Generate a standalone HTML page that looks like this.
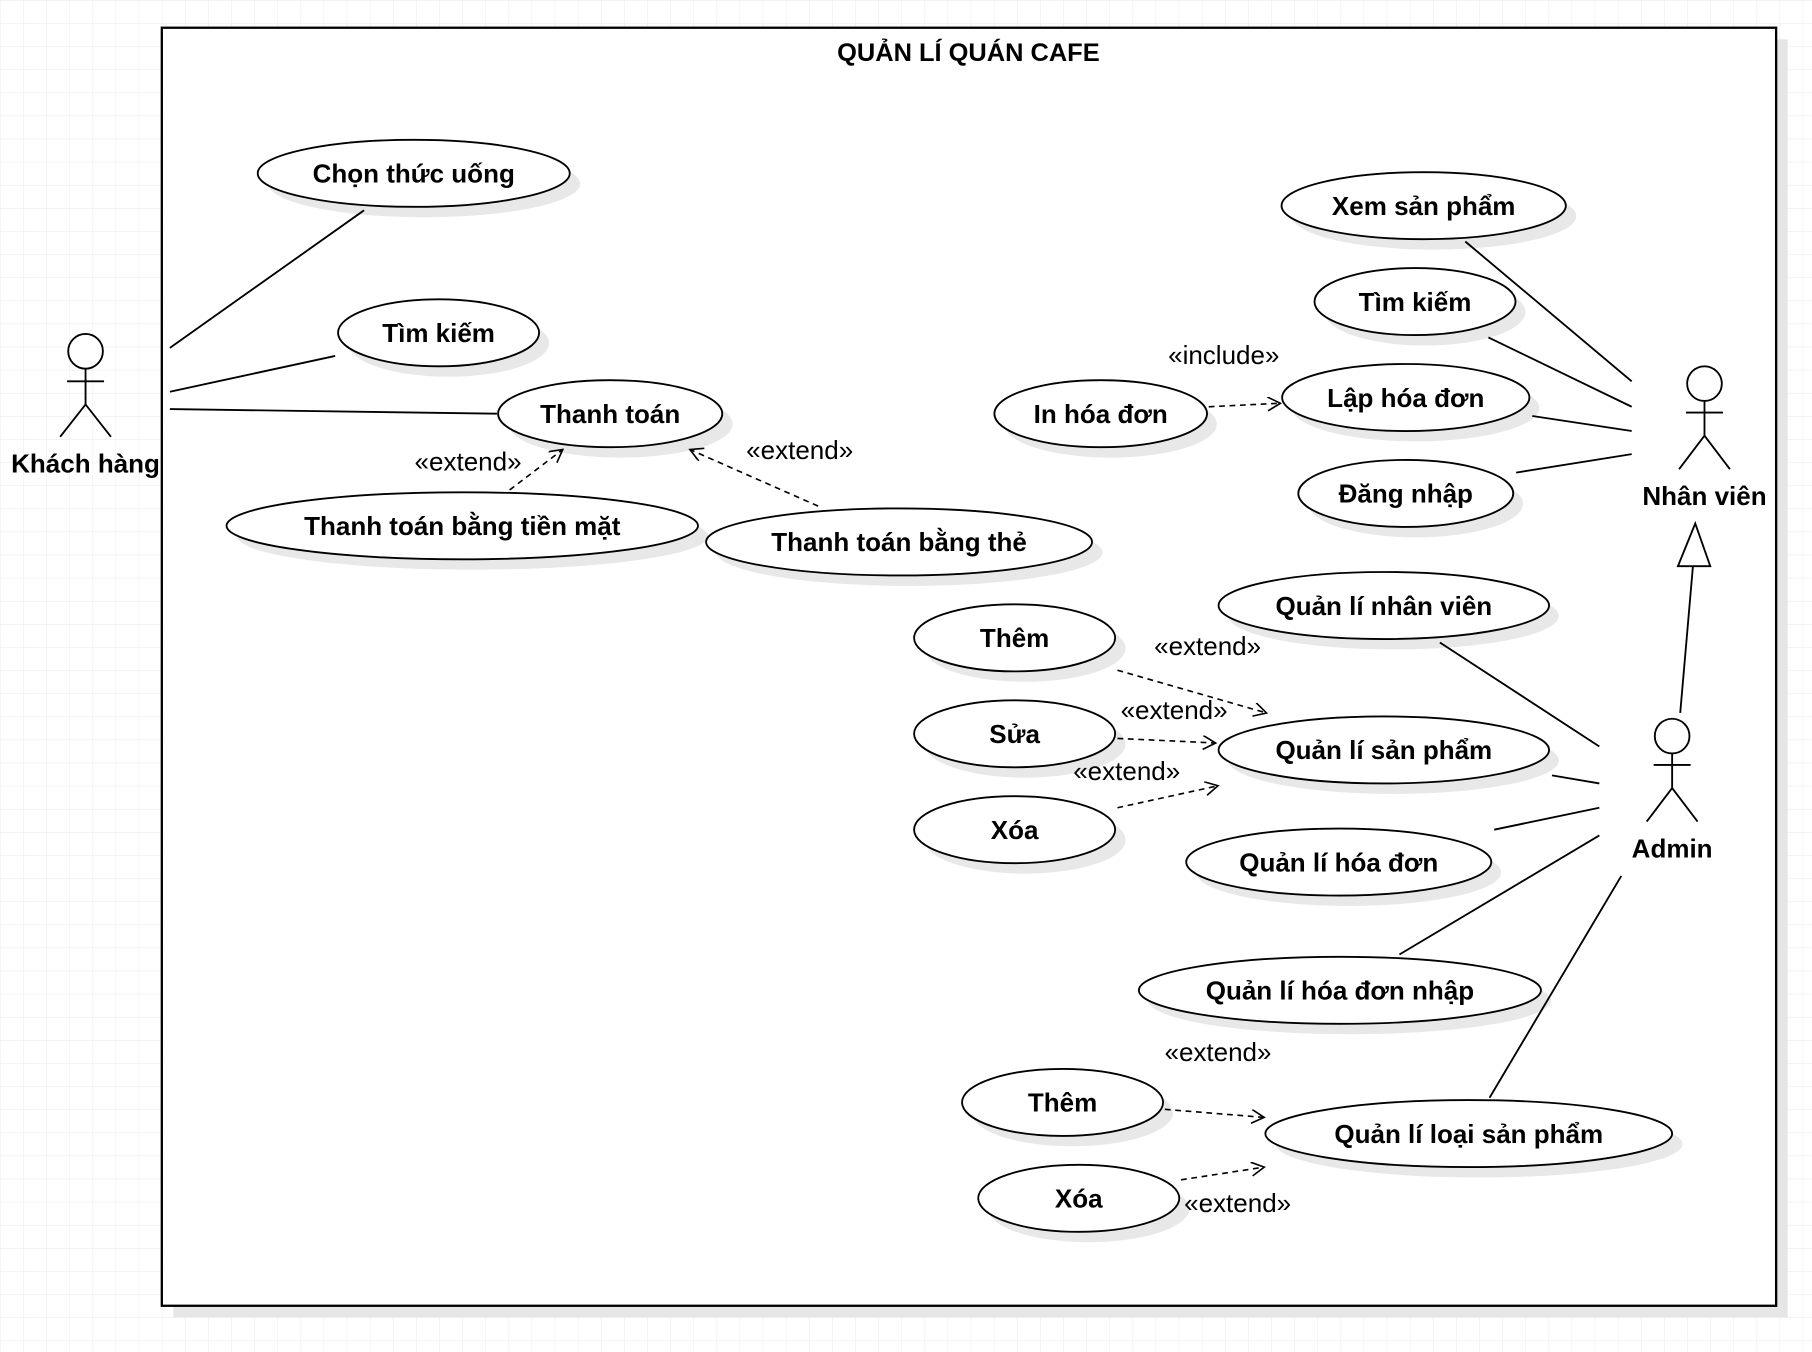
<!DOCTYPE html>
<html><head><meta charset="utf-8"><style>
html,body{margin:0;padding:0;background:#fff;width:1812px;height:1352px;overflow:hidden}
text{font-family:"Liberation Sans",sans-serif;fill:#000}
.b{font-weight:bold;font-size:22.5px}
.s{font-size:22.5px}
</style></head><body>
<svg width="1812" height="1352" viewBox="0 0 1568 1170" xmlns="http://www.w3.org/2000/svg">
<defs>
<pattern id="g" width="20" height="20" patternUnits="userSpaceOnUse">
<path d="M20 0H0V20" fill="none" stroke="#ececec" stroke-width="1"/>
</pattern>
<marker id="oa" markerWidth="14" markerHeight="14" refX="12" refY="6" orient="auto" markerUnits="userSpaceOnUse">
<path d="M1 0L12 6L1 12" fill="none" stroke="#000" stroke-width="1.4"/>
</marker>
</defs>
<rect width="1568" height="1170" fill="url(#g)"/>
<rect x="150" y="34" width="1397" height="1106" fill="#e6e6e6"/>
<rect x="140" y="24" width="1397" height="1106" fill="#fff" stroke="#000" stroke-width="2"/>
<text x="838" y="53" class="b" text-anchor="middle" style="font-size:22px">QUẢN LÍ QUÁN CAFE</text>

<g id="els">
<g fill="#e8e8e8">
<ellipse cx="367" cy="159" rx="135" ry="29"/>
<ellipse cx="388" cy="297" rx="87" ry="29"/>
<ellipse cx="537" cy="367" rx="97" ry="29"/>
<ellipse cx="409" cy="464" rx="204" ry="29"/>
<ellipse cx="787" cy="478" rx="167" ry="29"/>
<ellipse cx="1241" cy="187" rx="123" ry="29"/>
<ellipse cx="1233" cy="270" rx="87" ry="29"/>
<ellipse cx="1225" cy="353" rx="107" ry="29"/>
<ellipse cx="1225" cy="436" rx="93" ry="29"/>
<ellipse cx="961" cy="367" rx="92" ry="29"/>
<ellipse cx="1206" cy="533" rx="143" ry="29"/>
<ellipse cx="887" cy="561" rx="87" ry="29"/>
<ellipse cx="887" cy="644" rx="87" ry="29"/>
<ellipse cx="887" cy="727" rx="87" ry="29"/>
<ellipse cx="1206" cy="658" rx="143" ry="29"/>
<ellipse cx="1167" cy="755" rx="132" ry="29"/>
<ellipse cx="1168" cy="866" rx="174" ry="29"/>
<ellipse cx="928" cy="963" rx="87" ry="29"/>
<ellipse cx="942" cy="1046" rx="87" ry="29"/>
<ellipse cx="1280" cy="990" rx="176" ry="29"/>
</g>
<g fill="#fff" stroke="#000" stroke-width="1.6">
<ellipse cx="358" cy="150" rx="135" ry="29"/>
<ellipse cx="379.5" cy="288" rx="87" ry="29"/>
<ellipse cx="528" cy="358" rx="97" ry="29"/>
<ellipse cx="400" cy="455" rx="204" ry="29"/>
<ellipse cx="778" cy="469" rx="167" ry="29"/>
<ellipse cx="1232" cy="178" rx="123" ry="29"/>
<ellipse cx="1224.5" cy="261" rx="87" ry="29"/>
<ellipse cx="1216.5" cy="344" rx="107" ry="29"/>
<ellipse cx="1216.5" cy="427" rx="93" ry="29"/>
<ellipse cx="952.5" cy="358" rx="92" ry="29"/>
<ellipse cx="1197.5" cy="524" rx="143" ry="29"/>
<ellipse cx="878" cy="552" rx="87" ry="29"/>
<ellipse cx="878" cy="635" rx="87" ry="29"/>
<ellipse cx="878" cy="718" rx="87" ry="29"/>
<ellipse cx="1197.5" cy="649" rx="143" ry="29"/>
<ellipse cx="1158.5" cy="746" rx="132" ry="29"/>
<ellipse cx="1159.5" cy="857" rx="174" ry="29"/>
<ellipse cx="919.5" cy="954" rx="87" ry="29"/>
<ellipse cx="933.5" cy="1037" rx="87" ry="29"/>
<ellipse cx="1271" cy="981" rx="176" ry="29"/>
</g>
<g class="b" text-anchor="middle">
<text x="358" y="158">Chọn thức uống</text>
<text x="379.5" y="296">Tìm kiếm</text>
<text x="528" y="366">Thanh toán</text>
<text x="400" y="463">Thanh toán bằng tiền mặt</text>
<text x="778" y="477">Thanh toán bằng thẻ</text>
<text x="1232" y="186">Xem sản phẩm</text>
<text x="1224.5" y="269">Tìm kiếm</text>
<text x="1216.5" y="352">Lập hóa đơn</text>
<text x="1216.5" y="435">Đăng nhập</text>
<text x="952.5" y="366">In hóa đơn</text>
<text x="1197.5" y="532">Quản lí nhân viên</text>
<text x="878" y="560">Thêm</text>
<text x="878" y="643">Sửa</text>
<text x="878" y="726">Xóa</text>
<text x="1197.5" y="657">Quản lí sản phẩm</text>
<text x="1158.5" y="754">Quản lí hóa đơn</text>
<text x="1159.5" y="865">Quản lí hóa đơn nhập</text>
<text x="919.5" y="962">Thêm</text>
<text x="933.5" y="1045">Xóa</text>
<text x="1271" y="989">Quản lí loại sản phẩm</text>
</g>
</g>

<g fill="#fff" stroke="#000" stroke-width="1.6">
<circle cx="74" cy="304" r="15"/>
<path d="M74 319V350M58 330H90M52 378L74 350L96 378" fill="none"/>
<circle cx="1475" cy="332" r="15"/>
<path d="M1475 347V377M1459 357H1491M1453 406L1475 377L1497 406" fill="none"/>
<circle cx="1447" cy="637" r="15"/>
<path d="M1447 652V682M1431 662H1463M1425 711L1447 682L1469 711" fill="none"/>
</g>
<g class="b" text-anchor="middle">
<text x="74" y="409">Khách hàng</text>
<text x="1475" y="437">Nhân viên</text>
<text x="1447" y="742">Admin</text>
</g>

<g stroke="#000" stroke-width="1.6" fill="none">
<path d="M147 301L315 182M147 339L290 308M147 354L430 358"/>
<path d="M1268 209L1412 330M1288 292L1412 352M1326 360L1412 373M1312 409L1412 393"/>
<path d="M1246 556L1384 646M1343 671L1384 678M1293 718L1384 699M1211 826L1384 723M1289 950L1403 758"/>
<path d="M1454 617L1465 490"/>
<path d="M1467 453L1452 490L1480 490Z" fill="#fff"/>
</g>

<g stroke="#000" stroke-width="1.4" fill="none" stroke-dasharray="5,4" marker-end="url(#oa)">
<path d="M441 424L487 389"/>
<path d="M708 438L597 389"/>
<path d="M1046 352L1108 349"/>
<path d="M967 580L1096 617"/>
<path d="M967 639L1052 643"/>
<path d="M967 699L1054 680"/>
<path d="M1008 960L1094 967"/>
<path d="M1022 1021L1094 1010"/>
</g>
<g class="s" text-anchor="middle">
<text x="405" y="407">«extend»</text>
<text x="692" y="397">«extend»</text>
<text x="1059" y="315">«include»</text>
<text x="1045" y="567">«extend»</text>
<text x="1016" y="622">«extend»</text>
<text x="975" y="675">«extend»</text>
<text x="1054" y="918">«extend»</text>
<text x="1071" y="1049">«extend»</text>
</g>
</svg>
</body></html>
